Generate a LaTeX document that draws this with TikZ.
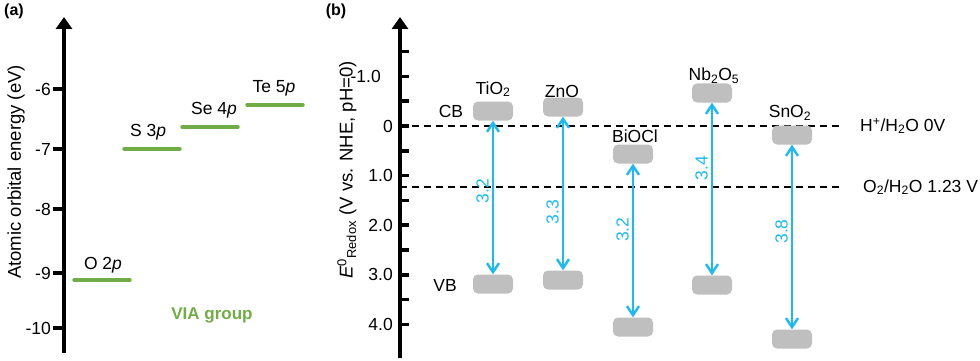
\documentclass[tikz,border=0pt]{standalone}
\usepackage{fontspec}
\setmainfont{Liberation Sans}
\usetikzlibrary{arrows.meta}

\definecolor{viagreen}{HTML}{70AD47}
\definecolor{gapblue}{HTML}{1CB9F2}

\begin{document}
\begin{tikzpicture}[
  x=1pt, y=-1pt,
  every node/.style={font=\fontsize{17.5}{21}\selectfont, inner sep=0pt},
  axis/.style={line width=4.5pt, -{Triangle[length=12pt,width=16pt]}},
  tick/.style={line width=3.5pt},
  level/.style={draw=viagreen, line width=3.4pt, line cap=round},
  band/.style={fill=gray!50, rounded corners=5pt, minimum width=40pt, minimum height=19pt},
  gap/.style={draw=gapblue, line width=2.4pt, {Straight Barb[length=9pt,width=12pt]}-{Straight Barb[length=9pt,width=12pt]}},
  gaplabel/.style={text=gapblue, rotate=90, anchor=south, inner sep=3pt},
  redox/.style={dash pattern=on 7pt off 5pt, line width=1.4pt}
]
\useasboundingbox (0,0) rectangle (980,361);

% (a)
\node[font=\bfseries\fontsize{16}{19}\selectfont] (pa) at (14,11) {(a)};
\coordinate (abot) at (64,353);
\coordinate (atop) at (64,17);
\draw[axis] (abot) -- (atop);
\foreach \y/\t in {89/-6,149/-7,209/-8,273/-9,328/-10} {
  \draw[tick] (53,\y) -- (64,\y);
  \node[anchor=east] (atick\y) at (51,\y) {\t};
}
\node[rotate=90, font=\fontsize{18.5}{22}\selectfont] (aylabel) at (16,172) {Atomic orbital energy (eV)};

\draw[level] (74,280) -- (130,280);
\draw[level] (124,149) -- (180,149);
\draw[level] (182,127) -- (238,127);
\draw[level] (247,105) -- (303,105);
\node (o2p) at (103,265) {O 2\textit{p}};
\node (s3p) at (148,132) {S 3\textit{p}};
\node (se4p) at (214,110) {Se 4\textit{p}};
\node (te5p) at (274,88) {Te 5\textit{p}};
\node[text=viagreen, font=\bfseries\fontsize{17}{20}\selectfont] (via) at (212,315) {VIA group};

% (b)
\node[font=\bfseries\fontsize{16}{19}\selectfont] (pb) at (336,11) {(b)};
\coordinate (bbot) at (400,358);
\coordinate (btop) at (400,17);
\draw[axis] (bbot) -- (btop);
\foreach \v in {-1.5,-1,...,4} {
  \draw[tick] (400,{126+49.6*\v}) -- (409,{126+49.6*\v});
}
\node[anchor=east] (bt-1) at (381,76.4) {-1.0};
\node[anchor=east] (bt0) at (393,126) {0};
\node[anchor=east] (bt1) at (393,175.6) {1.0};
\node[anchor=east] (bt2) at (393,225.2) {2.0};
\node[anchor=east] (bt3) at (393,274.8) {3.0};
\node[anchor=east] (bt4) at (393,324.4) {4.0};
\node[rotate=90, font=\fontsize{18.5}{22}\selectfont] (bylabel) at (347,170) {\textit{E}\textsuperscript{0}\textsubscript{Redox} (V vs. NHE, pH=0)};

\coordinate (h0) at (400,126);
\coordinate (h1) at (842,126);
\coordinate (o0) at (400,187);
\coordinate (o1) at (842,187);
\draw[redox] (h0) -- (h1);
\draw[redox] (o0) -- (o1);
\node[anchor=west] (hlabel) at (860,126) {H\textsuperscript{+}/H\textsubscript{2}O 0V};
\node[anchor=west] (olabel) at (863,187) {O\textsubscript{2}/H\textsubscript{2}O 1.23 V};

\node (cb) at (451,111) {CB};
\node (vb) at (445,285) {VB};

\node[band] (ti-cb) at (493,111) {};
\node[band] (ti-vb) at (493,284) {};
\node[band] (zn-cb) at (563,107) {};
\node[band] (zn-vb) at (563,280) {};
\node[band] (bi-cb) at (633,154) {};
\node[band] (bi-vb) at (633,327) {};
\node[band] (nb-cb) at (712,93) {};
\node[band] (nb-vb) at (712,285) {};
\node[band] (sn-cb) at (792,135) {};
\node[band] (sn-vb) at (792,339) {};

\node (ti) at (493,89) {TiO\textsubscript{2}};
\node (zn) at (562,91) {ZnO};
\node (bi) at (635,136) {BiOCl};
\node (nb) at (714,76) {Nb\textsubscript{2}O\textsubscript{5}};
\node (sn) at (790,113) {SnO\textsubscript{2}};

\draw[gap] (ti-cb) -- (ti-vb) node[gaplabel, pos=0.46] {3.2};
\draw[gap] (zn-cb) -- (zn-vb) node[gaplabel, pos=0.62] {3.3};
\draw[gap] (bi-cb) -- (bi-vb) node[gaplabel, pos=0.43] {3.2};
\draw[gap] (nb-cb) -- (nb-vb) node[gaplabel, pos=0.38] {3.4};
\draw[gap] (sn-cb) -- (sn-vb) node[gaplabel, pos=0.47] {3.8};
\end{tikzpicture}
\end{document}
